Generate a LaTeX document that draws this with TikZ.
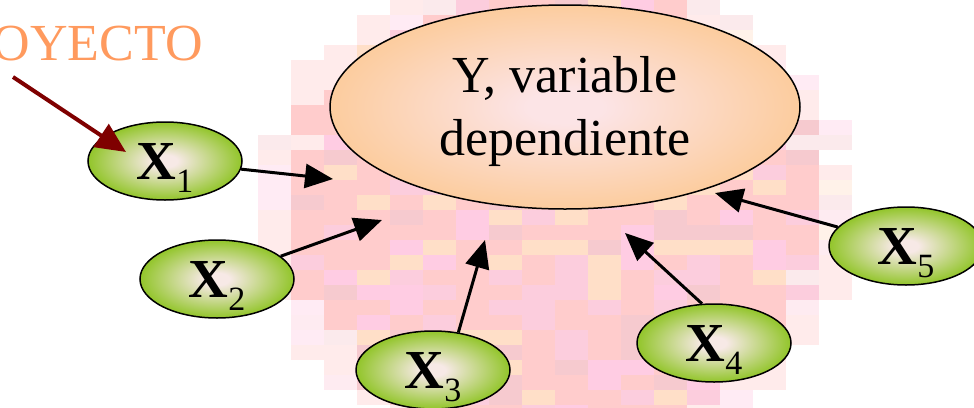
\documentclass[tikz,border=0pt]{standalone}
\usepackage{fontspec}
\setmainfont{Liberation Serif}
\usetikzlibrary{arrows.meta,shapes.geometric}
\definecolor{xout}{HTML}{92C52A}
\definecolor{xin}{HTML}{F7E9E6}
\definecolor{yout}{HTML}{FCC994}
\definecolor{yin}{HTML}{FCE4E6}
\definecolor{proyorange}{HTML}{FF9A5E}
\definecolor{proyred}{HTML}{7F0000}
\definecolor{mos1}{HTML}{FFCCCC}
\definecolor{mos2}{HTML}{FFCCCC}
\definecolor{mos3}{HTML}{FFCCCC}
\definecolor{mos4}{HTML}{FFCCE3}
\definecolor{mos5}{HTML}{FFDFC8}
\definecolor{mos6}{HTML}{F6CACF}
\definecolor{mos7}{HTML}{FFCCCC}
\definecolor{mos8}{HTML}{FCCDDD}
\pgfdeclareradialshading{xglow}{\pgfpoint{0bp}{0bp}}{color(0bp)=(xin); color(4bp)=(xin); color(25bp)=(xout); color(50bp)=(xout)}
\pgfdeclareradialshading{yglow}{\pgfpoint{0bp}{0bp}}{color(0bp)=(yin); color(4bp)=(yin); color(28bp)=(yout); color(50bp)=(yout)}
\newcommand\xsub[1]{X\raisebox{-13pt}[0pt][0pt]{\fontsize{34}{34}\mdseries\selectfont #1}}
\tikzset{
	xvar/.style={ellipse,draw,line width=1.5pt,minimum width=154pt,minimum height=78pt,inner sep=0pt,shading=xglow,font=\fontsize{55}{55}\selectfont\bfseries},
	yvar/.style={ellipse,draw,line width=1.5pt,minimum width=470pt,minimum height=204pt,inner sep=0pt,shading=yglow,align=center,font=\fontsize{52}{63}\selectfont},
	flecha/.style={-{Triangle[length=28pt,width=24pt]},line width=3pt},
	flecharoja/.style={-{Triangle[length=30pt,width=27pt]},line width=4pt,draw=proyred,fill=proyred},
}
\begin{document}
\begin{tikzpicture}[x=1pt,y=-1pt]
	\useasboundingbox(0,0)rectangle(974,407);
	\pgfmathsetseed{11}
	\foreach \i in {0,...,20}{
		\foreach \j in {0,...,27}{
			\pgfmathsetmacro\cx{225+33*\i+16.5}
			\pgfmathsetmacro\cy{15*\j+7.5}
			\pgfmathsetmacro\dd{((\cx-555)/300)^2+((\cy-215)/250)^2+0.15*rnd}
			\pgfmathrandominteger\k{1}{8}
			\ifdim\dd pt<1.05pt
				\pgfmathsetmacro\op{\dd>0.88 ? 0.4 : 1}
				\fill[mos\k,opacity=\op](225+33*\i,15*\j)rectangle+(33,15);
			\fi
		}
	}
	\node[yvar](y)at(565,107){\rule{0pt}{46pt}Y, variable\\dependiente};
	\node[xvar](x1)at(165,161){\xsub{1}};
	\node[xvar](x2)at(217,279){\xsub{2}};
	\node[xvar](x3)at(433,370){\xsub{3}};
	\node[xvar](x4)at(714,343){\xsub{4}};
	\node[xvar](x5)at(906,246){\xsub{5}};
	\node[anchor=base east,inner sep=0pt,text=proyorange,font=\fontsize{52}{52}\selectfont](proy)at(203,60){OYECTO};
	\coordinate(t1)at(333,179);
	\coordinate(t2)at(382,220);
	\coordinate(t3)at(485,240);
	\coordinate(t4)at(625,233);
	\coordinate(t5)at(715,193);
	\coordinate(r0)at(13,77);
	\coordinate(r1)at(126,152);
	\draw[flecha](x1)--(t1);
	\draw[flecha](x2)--(t2);
	\draw[flecha](x3.56)--(t3);
	\draw[flecha](x4.107)--(t4);
	\draw[flecha](x5)--(t5);
	\draw[flecharoja](r0)--(r1);
\end{tikzpicture}
\end{document}
